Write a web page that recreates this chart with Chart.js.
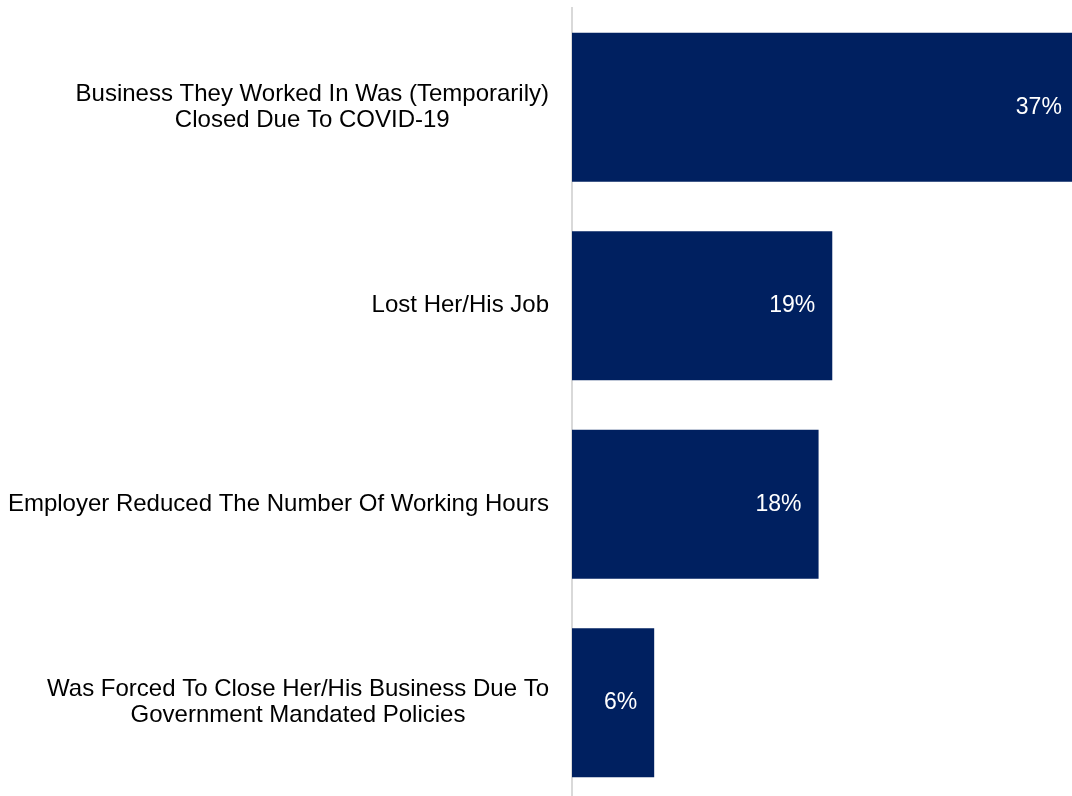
<!DOCTYPE html>
<html lang="en">
<head>
    <meta charset="UTF-8">
    <title>Reasons for Income Loss</title>
    <script src="https://cdn.jsdelivr.net/npm/chart.js"></script>
    <style>
        html, body { margin: 0; padding: 0; background: #fff; overflow: hidden; }
        #wrap { width: 1072px; height: 802px; }
    </style>
</head>
<body>
    <div id="wrap"><canvas id="reasonsChart"></canvas></div>

    <script>
        // Categories (multi-line) and share of respondents, in percent
        const categories = [
            ["Business They Worked In Was (Temporarily)", "Closed Due To COVID-19"],
            ["Lost Her/His Job"],
            ["Employer Reduced The Number Of Working Hours"],
            ["Was Forced To Close Her/His Business Due To", "Government Mandated Policies"]
        ];
        const shares = [37, 19, 18, 6];

        const FONT = "'Liberation Sans', Arial, sans-serif";
        const NAVY = "#002060";

        // Category labels: right edge of the block fixed, lines centred on each other
        const categoryLabels = {
            id: "categoryLabels",
            afterDraw(chart) {
                const ctx = chart.ctx;
                const y = chart.scales.y;
                const right = 549;
                const lineH = 26;
                ctx.save();
                ctx.font = "24px " + FONT;
                ctx.fillStyle = "#000";
                ctx.textAlign = "center";
                ctx.textBaseline = "middle";
                categories.forEach((lines, i) => {
                    const maxW = Math.max(...lines.map(l => ctx.measureText(l).width));
                    const cx = right - maxW / 2;
                    const cy = y.getPixelForValue(i);
                    const top = cy - (lines.length - 1) * lineH / 2;
                    lines.forEach((l, j) => ctx.fillText(l, cx, top + j * lineH));
                });
                ctx.restore();
            }
        };

        // Percent values printed inside the bar end
        const valueLabels = {
            id: "valueLabels",
            afterDatasetsDraw(chart) {
                const ctx = chart.ctx;
                const meta = chart.getDatasetMeta(0);
                const x = chart.scales.x;
                ctx.save();
                ctx.font = "23px " + FONT;
                ctx.fillStyle = "#fff";
                ctx.textAlign = "right";
                ctx.textBaseline = "middle";
                meta.data.forEach((bar, i) => {
                    ctx.fillText(shares[i] + "%", x.getPixelForValue(shares[i]) - 17, bar.y);
                });
                ctx.restore();
            }
        };

        new Chart(document.getElementById("reasonsChart"), {
            type: "bar",
            data: {
                labels: categories,
                datasets: [{
                    data: shares,
                    backgroundColor: NAVY,
                    borderWidth: 0,
                    categoryPercentage: 1,
                    barPercentage: 0.75
                }]
            },
            options: {
                indexAxis: "y",
                responsive: true,
                maintainAspectRatio: false,
                animation: false,
                layout: { padding: { top: 8, left: 0, right: 0, bottom: 0 } },
                plugins: {
                    legend: { display: false },
                    tooltip: { enabled: false }
                },
                scales: {
                    x: {
                        display: false,
                        min: 0,
                        max: 36.5
                    },
                    y: {
                        grid: { display: false, drawTicks: false },
                        border: { display: true, color: "#d9d9d9", width: 2 },
                        ticks: { display: false },
                        afterFit(scale) { scale.width = 572; }
                    }
                }
            },
            plugins: [categoryLabels, valueLabels]
        });
    </script>
</body>
</html>
